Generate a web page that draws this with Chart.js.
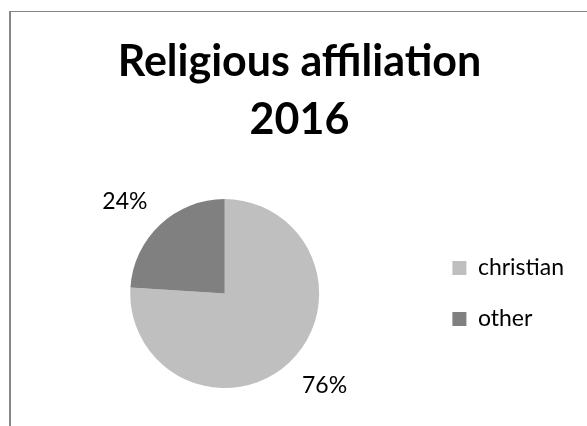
<!DOCTYPE html>
<html>
<head>
<meta charset="utf-8">
<script src="https://cdn.jsdelivr.net/npm/chart.js@4.4.0/dist/chart.umd.min.js"></script>
<style>
  html, body { margin: 0; padding: 0; background: #fff; }
  #wrap { position: relative; width: 587px; height: 426px; overflow: hidden; }
  #frame { position: absolute; left: 9px; top: 11px; width: 600px; height: 440px;
           border-top: 1px solid #868686; border-left: 2px solid #868686; }
  canvas { position: absolute; left: 0; top: 0; }
</style>
</head>
<body>
<div id="wrap">
  <div id="frame"></div>
  <canvas id="pieChart" width="587" height="426"></canvas>
</div>
<script>
const categories = ["christian", "other"];
const shares = [76, 24];
const sliceColors = ["#bfbfbf", "#808080"];
const chartTitle = ["Religious affiliation", "2016"];

// percentage labels outside each slice (best-fit style, nudged a bit anticlockwise)
const pctLabels = {
  id: "pctLabels",
  afterDatasetsDraw(chart) {
    const ctx = chart.ctx;
    const meta = chart.getDatasetMeta(0);
    ctx.save();
    ctx.font = "23px Lato";
    ctx.fillStyle = "#000";
    ctx.textAlign = "center";
    ctx.textBaseline = "middle";
    meta.data.forEach((arc, i) => {
      const p = arc.getProps(["x", "y", "startAngle", "endAngle", "outerRadius"], true);
      const mid = (p.startAngle + p.endAngle) / 2 - 0.07;
      const d = p.outerRadius * 1.44;
      ctx.fillText(shares[i] + "%", p.x + Math.cos(mid) * d, p.y + Math.sin(mid) * d);
    });
    ctx.restore();
  }
};

new Chart(document.getElementById("pieChart"), {
  type: "pie",
  data: {
    labels: categories,
    datasets: [{
      data: shares,
      backgroundColor: sliceColors,
      borderWidth: 0
    }]
  },
  options: {
    responsive: false,
    animation: false,
    layout: { padding: { left: 25, right: 13, top: 0, bottom: 38 } },
    plugins: {
      title: {
        display: true,
        text: chartTitle,
        color: "#000",
        font: { family: "Lato", size: 43, weight: "bold", lineHeight: 1.35 },
        padding: { top: 33, bottom: 50 }
      },
      legend: {
        position: "right",
        fullSize: false,
        labels: {
          color: "#000",
          font: { family: "Lato", size: 23 },
          boxWidth: 14,
          boxHeight: 14,
          padding: 28
        }
      },
      tooltip: { enabled: false }
    }
  },
  plugins: [pctLabels]
});
</script>
</body>
</html>
